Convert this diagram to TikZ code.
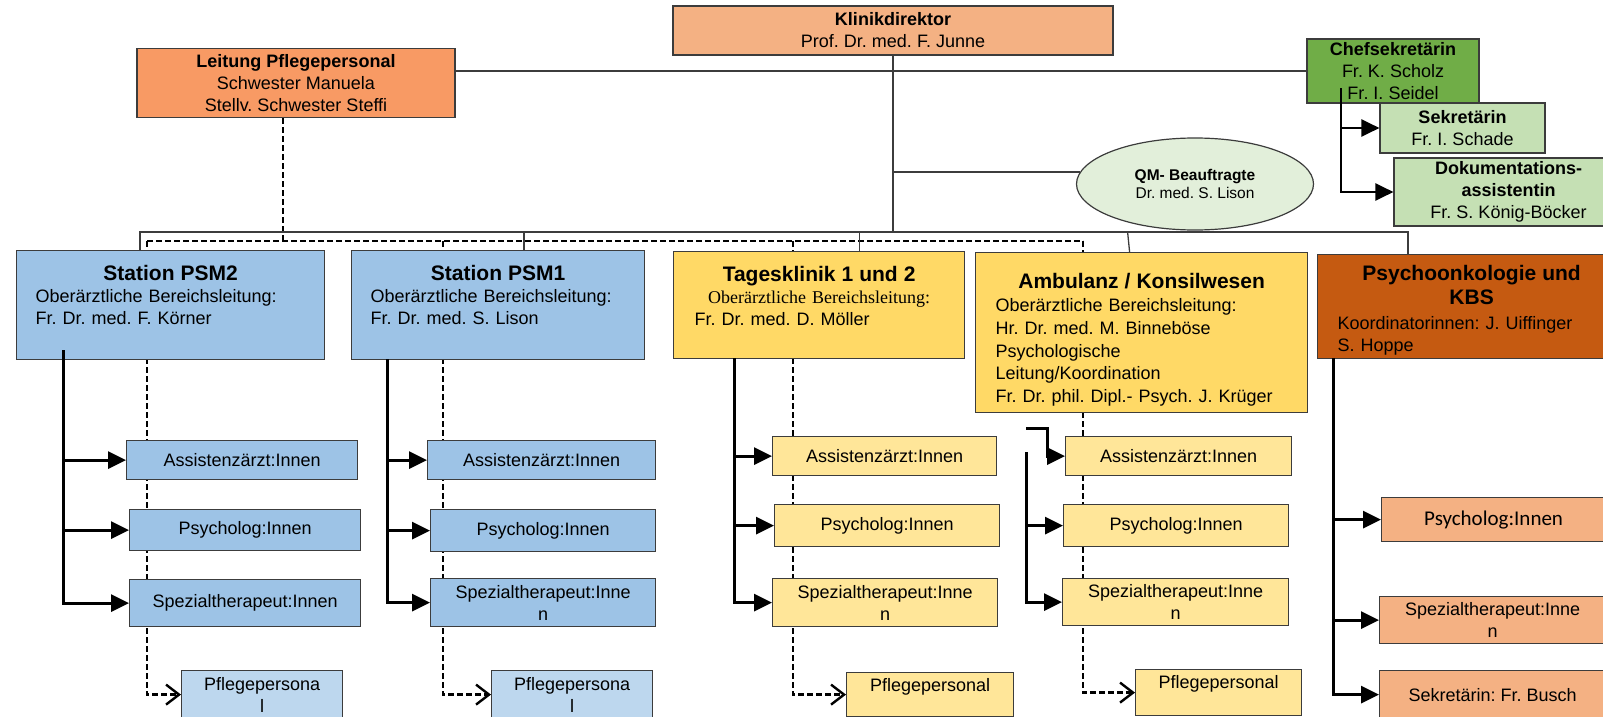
\documentclass[tikz,border=0pt]{standalone}
\usepackage{fontspec}
\setmainfont{Liberation Sans}
\newfontfamily\timesfont{Liberation Serif}
\newfontfamily\calibrifont{Carlito}
\usetikzlibrary{arrows.meta,shapes.geometric,backgrounds}
\frenchspacing

\definecolor{kopf}{RGB}{244,177,131}
\definecolor{pflege}{RGB}{248,154,100}
\definecolor{chefgreen}{RGB}{112,173,71}
\definecolor{sekgreen}{RGB}{197,224,180}
\definecolor{qmgreen}{RGB}{226,239,218}
\definecolor{psmblue}{RGB}{157,195,230}
\definecolor{psmlight}{RGB}{189,215,238}
\definecolor{tagyellow}{RGB}{255,217,102}
\definecolor{taglight}{RGB}{255,230,153}
\definecolor{onkobrown}{RGB}{197,90,17}
\definecolor{rahmen}{RGB}{60,60,60}

\newcommand{\headline}[1]{\makebox[\linewidth]{\fontsize{21}{24}\selectfont\bfseries #1}}

\begin{document}
\begin{tikzpicture}[x=1pt, y=-1pt,
	every node/.style={font=\fontsize{18}{22}\selectfont},
	box/.style={draw=rahmen, line width=1.2, inner sep=2},
	ward/.style={box, anchor=north west, align=left, inner ysep=0},
	sub/.style={box, anchor=north west, align=center},
	tree/.style={line width=3, -{Triangle[length=18pt,width=17pt]}},
	nurse/.style={line width=2.4, dash pattern=on 6pt off 3pt, -{Straight Barb[length=13pt,width=20pt]}},
	bus/.style={line width=1.3, draw=rahmen}]
	\useasboundingbox (0,0) rectangle (1603,717);
	\clip (0,0) rectangle (1603,717);

	% top
	\node[box, fill=kopf, minimum width=440, minimum height=49, align=center] (klinik) at (893,30.5) {\textbf{Klinikdirektor}\\Prof. Dr. med. F. Junne};
	\node[box, fill=pflege, minimum width=318, minimum height=69, align=center] (leitung) at (296,83) {\textbf{Leitung Pflegepersonal}\\Schwester Manuela\\Stellv. Schwester Steffi};
	\node[box, fill=chefgreen, minimum width=172, minimum height=64, align=center] (chef) at (1393,71) {\textbf{Chefsekretärin}\\Fr. K. Scholz\\Fr. I. Seidel};
	\node[box, fill=sekgreen, minimum width=165, minimum height=50, align=center] (sekr) at (1462.5,128) {\textbf{Sekretärin}\\Fr. I. Schade};
	\node[box, fill=sekgreen, minimum width=229, minimum height=68, align=center] (doku) at (1508.5,192) {\textbf{Dokumentations-}\\\textbf{assistentin}\\Fr. S. König-Böcker};
	\node[ellipse, draw=rahmen, line width=1.2, fill=qmgreen, minimum width=237, minimum height=92, align=center, font=\fontsize{15.5}{18}\selectfont] (qm) at (1195,184) {\textbf{QM- Beauftragte}\\Dr. med. S. Lison};

	% wards
	\node[ward, fill=psmblue, inner xsep=19, text width=270, text height=29.5, text depth=79.5] (psm2) at (16,250)
		{\headline{Station PSM2}\\Oberärztliche Bereichsleitung:\\Fr. Dr. med. F. Körner};
	\node[ward, fill=psmblue, inner xsep=19, text width=255, text height=29.5, text depth=79.5] (psm1) at (351,250)
		{\headline{Station PSM1}\\Oberärztliche Bereichsleitung:\\Fr. Dr. med. S. Lison};
	\node[ward, fill=tagyellow, inner xsep=21, text width=249, text height=29.5, text depth=77.5] (tages) at (673,251)
		{\headline{Tagesklinik 1 und 2}\\\makebox[\linewidth]{\timesfont Oberärztliche Bereichsleitung:}\\Fr. Dr. med. D. Möller};
	\node[ward, fill=tagyellow, inner xsep=20, text width=292, text height=35.5, text depth=124.5, font=\fontsize{18}{22.7}\selectfont] (amb) at (975,252)
		{\headline{Ambulanz / Konsilwesen}\\[1pt]Oberärztliche Bereichsleitung:\\Hr. Dr. med. M. Binneböse\\Psychologische\\Leitung/Koordination\\Fr. Dr. phil. Dipl.- Psych. J. Krüger};
	\node[ward, fill=onkobrown, inner xsep=20, text width=268, text height=25.5, text depth=78.5] (onko) at (1317,254)
		{\headline{Psychoonkologie und}\\[2pt]\headline{KBS}\\[3pt]Koordinatorinnen: J. Uiffinger\\S. Hoppe};

	% PSM2
	\node[sub, fill=psmblue, minimum width=231, minimum height=39] (psm2a) at (126,440) {Assistenzärzt:Innen};
	\node[sub, fill=psmblue, minimum width=231, minimum height=41] (psm2p) at (129,509) {Psycholog:Innen};
	\node[sub, fill=psmblue, minimum width=231, minimum height=47] (psm2s) at (129,579) {Spezialtherapeut:Innen};
	\node[sub, fill=psmlight, minimum width=161, minimum height=48] (psm2n) at (181,670) {Pflegepersona\\l};

	% PSM1
	\node[sub, fill=psmblue, minimum width=228, minimum height=39] (psm1a) at (427,440) {Assistenzärzt:Innen};
	\node[sub, fill=psmblue, minimum width=225, minimum height=42] (psm1p) at (430,509) {Psycholog:Innen};
	\node[sub, fill=psmblue, minimum width=225, minimum height=48] (psm1s) at (430,578) {Spezialtherapeut:Inne\\n};
	\node[sub, fill=psmlight, minimum width=161, minimum height=48] (psm1n) at (491,670) {Pflegepersona\\l};

	% Tagesklinik
	\node[sub, fill=taglight, minimum width=224, minimum height=39] (tagesa) at (772,436) {Assistenzärzt:Innen};
	\node[sub, fill=taglight, minimum width=225, minimum height=42] (tagesp) at (774,504) {Psycholog:Innen};
	\node[sub, fill=taglight, minimum width=225, minimum height=48] (tagess) at (772,578) {Spezialtherapeut:Inne\\n};
	\node[sub, fill=taglight, minimum width=167, inner ysep=0, text height=19, text depth=25] (tagesn) at (846,672) {Pflegepersonal};

	% Ambulanz
	\node[sub, fill=taglight, minimum width=226, minimum height=39] (amba) at (1065,436) {Assistenzärzt:Innen};
	\node[sub, fill=taglight, minimum width=225, minimum height=42] (ambp) at (1063,504) {Psycholog:Innen};
	\node[sub, fill=taglight, minimum width=226, minimum height=47] (ambs) at (1062,578) {Spezialtherapeut:Inne\\n};
	\node[sub, fill=taglight, minimum width=166, inner ysep=0, text height=19, text depth=27] (ambn) at (1135,669) {Pflegepersonal};

	% Psychoonkologie
	\node[sub, fill=kopf, minimum width=224, minimum height=44, font=\calibrifont\fontsize{21}{24}\selectfont] (onkop) at (1381,497) {Psycholog:Innen};
	\node[sub, fill=kopf, minimum width=226, minimum height=47] (onkos) at (1379,596) {Spezialtherapeut:Inne\\n};
	\node[sub, fill=kopf, minimum width=226, minimum height=48] (onkob) at (1379,670) {Sekretärin: Fr. Busch};

	% bus points
	\coordinate (s2) at (140,232);
	\coordinate (so) at (1408,232);
	\coordinate (lp) at (283,241);
	\coordinate (n2) at (147,241);
	\coordinate (n1) at (443,241);
	\coordinate (nt) at (793,241);
	\coordinate (na) at (1083,241);

	% nursing lines
	\begin{pgfonlayer}{background}
		\draw[line width=1.8, dash pattern=on 6pt off 3pt] (n2) -- (na);
		\draw[line width=1.8, dash pattern=on 6pt off 3pt] (leitung.south -| lp) -- (lp);
		\draw[nurse] (n2) |- (psm2n.west);
		\draw[nurse] (n1) |- (psm1n.west);
		\draw[nurse] (nt) |- (tagesn.west);
		\draw[nurse] (na) |- (ambn.west);
	\end{pgfonlayer}

	% lines of the director
	\draw[bus] (leitung.east |- chef.west) -- (chef.west);
	\draw[bus] (klinik.south) -- (klinik.south |- s2);
	\draw[bus] (klinik.south |- qm.174) -- (qm.174);
	\draw[bus] (psm2.north -| s2) -- (s2) -- (so) -- (onko.north -| so);
	\draw[bus] ([xshift=26]psm1.north) -- ++(0,-18);
	\draw[bus] ([xshift=40.5]tages.north) -- ++(0,-19);
	\draw[bus] ([xshift=-12]amb.north) -- ++(-2,-20);

	% secretaries
	\coordinate (tc) at (1341,88);
	\draw[tree, line width=2.5] (tc) |- (sekr.west);
	\draw[tree, line width=2.5] (tc) |- (doku.west);

	% ward staff
	\coordinate (t2) at (63,350);
	\draw[tree] (t2) |- (psm2a.west);
	\draw[tree] (t2) |- (psm2p.west);
	\draw[tree] (t2) |- (psm2s.west);

	\coordinate (t1) at (387,359);
	\draw[tree] (t1) |- (psm1a.west);
	\draw[tree] (t1) |- (psm1p.west);
	\draw[tree] (t1) |- (psm1s.west);

	\coordinate (tt) at (734,358);
	\draw[tree] (tt) |- (tagesa.west);
	\draw[tree] (tt) |- (tagesp.west);
	\draw[tree] (tt) |- (tagess.west);

	\coordinate (ja) at (1026,428);
	\coordinate (ta) at (1026,452);
	\draw[tree] (ja) -- ++(21,0) |- (amba.west);
	\draw[tree] (ta) |- (ambp.west);
	\draw[tree] (ta) |- (ambs.west);

	\coordinate (to) at (1333,358);
	\draw[tree] (to) |- (onkop.west);
	\draw[tree] (to) |- (onkos.west);
	\draw[tree] (to) |- (onkob.west);

\end{tikzpicture}
\end{document}
